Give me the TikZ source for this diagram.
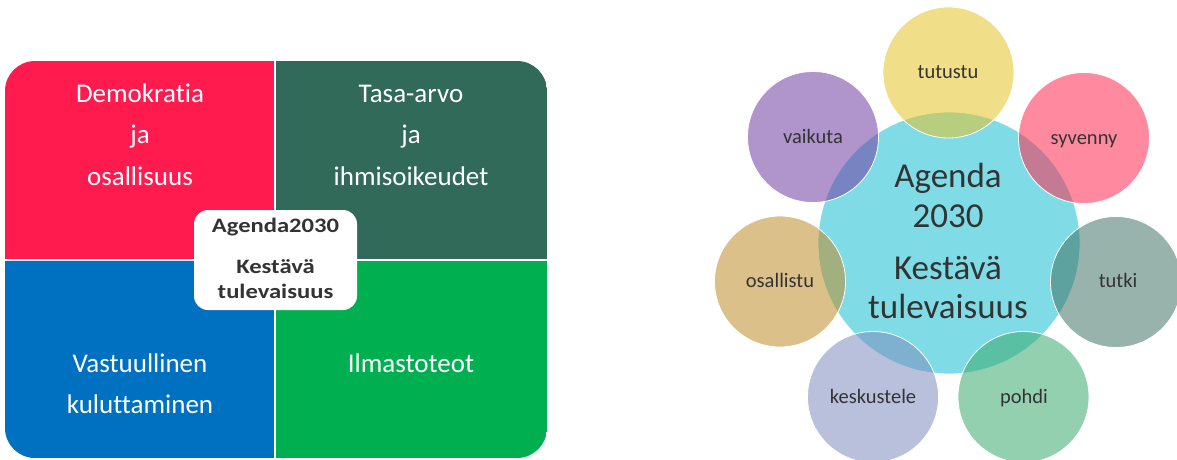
\documentclass[tikz,border=0pt]{standalone}
\usepackage{fontspec}
\setmainfont[Ligatures=NoCommon]{Carlito}
\newfontfamily\boxfont[FakeStretch=1.2,Ligatures=NoCommon]{Carlito}
\definecolor{qred}{RGB}{255,27,78}
\definecolor{qdkgreen}{RGB}{50,106,90}
\definecolor{qblue}{RGB}{0,112,192}
\definecolor{qgreen}{RGB}{0,176,80}
\definecolor{txtdark}{RGB}{51,51,51}
\definecolor{cbig}{RGB}{127,220,230}
\definecolor{ctutustu}{RGB}{228,195,39}
\definecolor{csyvenny}{RGB}{255,42,82}
\definecolor{ctutki}{RGB}{68,115,104}
\definecolor{cpohdi}{RGB}{59,169,111}
\definecolor{ckesk}{RGB}{126,140,191}
\definecolor{cosall}{RGB}{190,140,42}
\definecolor{cvaik}{RGB}{111,61,163}
\tikzset{
  quadtext/.style={text=white, font=\fontsize{27}{30}\selectfont, anchor=base, inner sep=0},
  boxtext/.style={text=txtdark, font=\boxfont\bfseries\fontsize{20.5}{24}\selectfont, anchor=base, inner sep=0},
  bigtext/.style={text=txtdark, font=\fontsize{35}{40}\selectfont, anchor=base, inner sep=0},
  smallcirc/.style={circle, minimum size=131, inner sep=0, fill opacity=0.55, draw=white, line width=0.8},
  circtext/.style={text=txtdark, font=\fontsize{20.5}{24}\selectfont, anchor=base, inner sep=0},
}
\begin{document}
\begin{tikzpicture}[x=1pt,y=-1pt]
\useasboundingbox (0,0) rectangle (1177,459);
% ---- left: quadrants
\begin{scope}
  \clip[rounded corners=30] (5,61) rectangle (547,458);
  \fill[qred] (5,61) rectangle (275,260);
  \fill[qdkgreen] (275,61) rectangle (547,260);
  \fill[qblue] (5,260) rectangle (275,458);
  \fill[qgreen] (275,260) rectangle (547,458);
  \draw[white, line width=1.2] (275,61) -- (275,458);
  \draw[white, line width=1.2] (5,260) -- (547,260);
\end{scope}
\node[quadtext] (d1) at (140,102) {Demokratia};
\node[quadtext] (d2) at (140,143.5) {ja};
\node[quadtext] (d3) at (140,185) {osallisuus};
\node[quadtext] (t1) at (411,102) {Tasa-arvo};
\node[quadtext] (t2) at (411,143.5) {ja};
\node[quadtext] (t3) at (411,185) {ihmisoikeudet};
\node[quadtext] (v1) at (140,372) {Vastuullinen};
\node[quadtext] (v2) at (140,413) {kuluttaminen};
\node[quadtext] (i1) at (411,372) {Ilmastoteot};
\node[fill=white, rounded corners=14, minimum width=163, minimum height=100, inner sep=0] (hub) at (275.5,260) {};
\node[boxtext] (h1) at (275.5,232.5) {Agenda2030};
\node[boxtext] (h2) at (275.5,273) {Kestävä};
\node[boxtext] (h3) at (275.5,298) {tulevaisuus};
% ---- right: circles
\node[circle, minimum size=262, inner sep=0, fill=cbig, draw=white, line width=0.8] (big) at (949,243) {};
\node[smallcirc, fill=ctutustu] (c1) at (948.5,72.5) {};
\node[smallcirc, fill=csyvenny] (c2) at (1084,138) {};
\node[smallcirc, fill=ctutki] (c3) at (1116,282) {};
\node[smallcirc, fill=cpohdi] (c4) at (1023.5,397) {};
\node[smallcirc, fill=ckesk] (c5) at (873,397) {};
\node[smallcirc, fill=cosall] (c6) at (780,281.5) {};
\node[smallcirc, fill=cvaik] (c7) at (813,137) {};
\node[circtext] (l1) at (948,78) {tutustu};
\node[circtext] (l2) at (1084,144) {syvenny};
\node[circtext] (l3) at (1118,287) {tutki};
\node[circtext] (l4) at (1024,403) {pohdi};
\node[circtext] (l5) at (873,403) {keskustele};
\node[circtext] (l6) at (780,287) {osallistu};
\node[circtext] (l7) at (813,143) {vaikuta};
\node[bigtext] (b1) at (948,187) {Agenda};
\node[bigtext] (b2) at (948,227) {2030};
\node[bigtext] (b3) at (948,279) {Kestävä};
\node[bigtext] (b4) at (948,318) {tulevaisuus};
\end{tikzpicture}
\end{document}
